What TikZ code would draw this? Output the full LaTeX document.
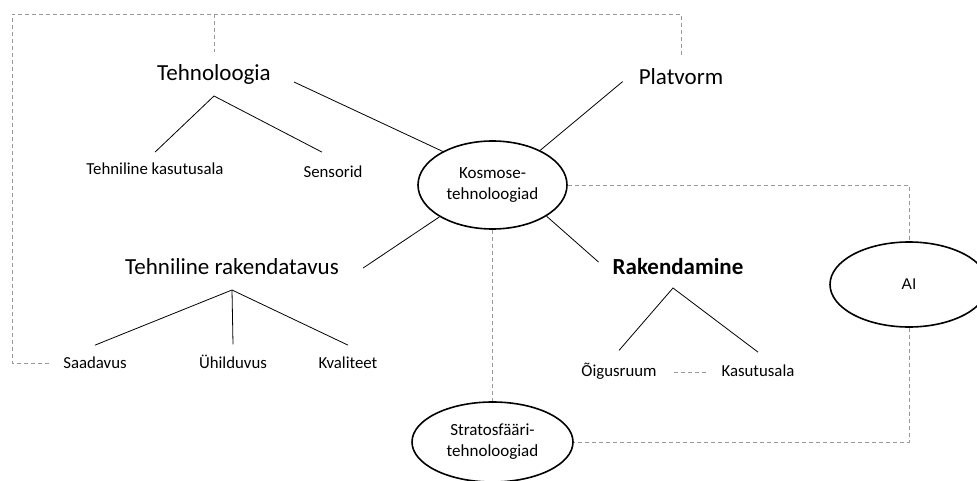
\documentclass[tikz,border=0pt]{standalone}
\usepackage{fontspec}
\setmainfont{Carlito}
\newfontfamily\aisans{Liberation Sans}
\usepackage{tikz}
\usetikzlibrary{positioning,shapes.geometric}

\tikzset{
    topic/.style = {anchor=base, inner sep=0pt, font=\fontsize{23}{27}\selectfont},
    leaf/.style = {anchor=base, inner sep=0pt, font=\fontsize{16.8}{20}\selectfont},
    tech/.style = {ellipse, draw, line width=1.6pt, inner sep=0pt, align=center,
                   font=\fontsize{17}{21}\selectfont},
    branch/.style = {line width=0.8pt},
    link/.style = {draw=black!40, line width=0.8pt, dash pattern=on 4pt off 3pt},
}

\begin{document}
\begin{tikzpicture}[x=1pt, y=-1pt]
    \useasboundingbox (0,0) rectangle (977,481);
    \clip (0,0) rectangle (977,481);

    % ellipses
    \node[tech, minimum width=149pt, minimum height=88pt] (kosmos) at (492.5,185) {Kosmose-\\tehnoloogiad};
    \node[tech, minimum width=161pt, minimum height=80pt] (strato) at (492.5,442) {Stratosfääri-\\tehnoloogiad};
    \node[tech, minimum width=158pt, minimum height=85pt, font=\aisans\fontsize{15.5}{18}\selectfont] (ai) at (909,284.5) {AI};

    % texts
    \node[topic] (tehno) at (214,81) {Tehnoloogia};
    \node[topic] (platv) at (681,85) {Platvorm};
    \node[leaf] (tkasut) at (155,175) {Tehniline kasutusala};
    \node[leaf] (sensor) at (333,178) {Sensorid};
    \node[topic] (rakendat) at (232,274) {Tehniline rakendatavus};
    \node[topic, font=\bfseries\fontsize{23}{27}\selectfont] (rakend) at (678,274) {Rakendamine};
    \node[leaf] (saadavus) at (95,368) {Saadavus};
    \node[leaf] (yhild) at (233,368) {Ühilduvus};
    \node[leaf] (kvalit) at (348,368) {Kvaliteet};
    \node[leaf] (oigus) at (619,376) {Õigusruum};
    \node[leaf] (kasut) at (758,376) {Kasutusala};

    \coordinate[below=15pt of tehno.base] (tehnofork);
    \coordinate[below=16pt of rakendat.base] (rakendatfork);
    \coordinate[below=14pt of rakend.base, xshift=-5pt] (rakendfork);
    \coordinate (loopcorner) at (12,14);

    % spokes
    \draw[branch] ([shift={(23pt,-7pt)}]tehno.east) -- (kosmos.146);
    \draw[branch] ([shift={(-16pt,-4.5pt)}]platv.west) -- (kosmos.36);
    \draw[branch] (kosmos.211) -- ([shift={(24pt,-2pt)}]rakendat.east);
    \draw[branch] (kosmos.330) -- ([shift={(-14pt,4pt)}]rakend.west);

    % trees
    \draw[branch] ([yshift=11pt]tkasut.north) -- (tehnofork) -- ([shift={(-11pt,14pt)}]sensor.north);
    \draw[branch] ([yshift=11pt]saadavus.north) -- (rakendatfork) -- ([yshift=11pt]kvalit.north);
    \draw[branch] (rakendatfork) -- ([yshift=10pt]yhild.north);
    \draw[branch] ([yshift=12pt]oigus.north) -- (rakendfork) -- ([yshift=12pt]kasut.north);

    % dashed links
    \draw[link] ([xshift=-14pt,yshift=5pt]saadavus.base west) -| (loopcorner) -| ([yshift=13pt]platv.north);
    \draw[link] (loopcorner -| tehno.north) -- ([yshift=13pt]tehno.north);
    \draw[link] (kosmos.east) -| (ai.north);
    \draw[link] (ai.south) |- (strato.east);
    \draw[link] (kosmos.south) -- (strato.north);
    \draw[link] ([xshift=17pt,yshift=4pt]oigus.base east) -- ([xshift=-15pt,yshift=4pt]kasut.base west);
\end{tikzpicture}
\end{document}
